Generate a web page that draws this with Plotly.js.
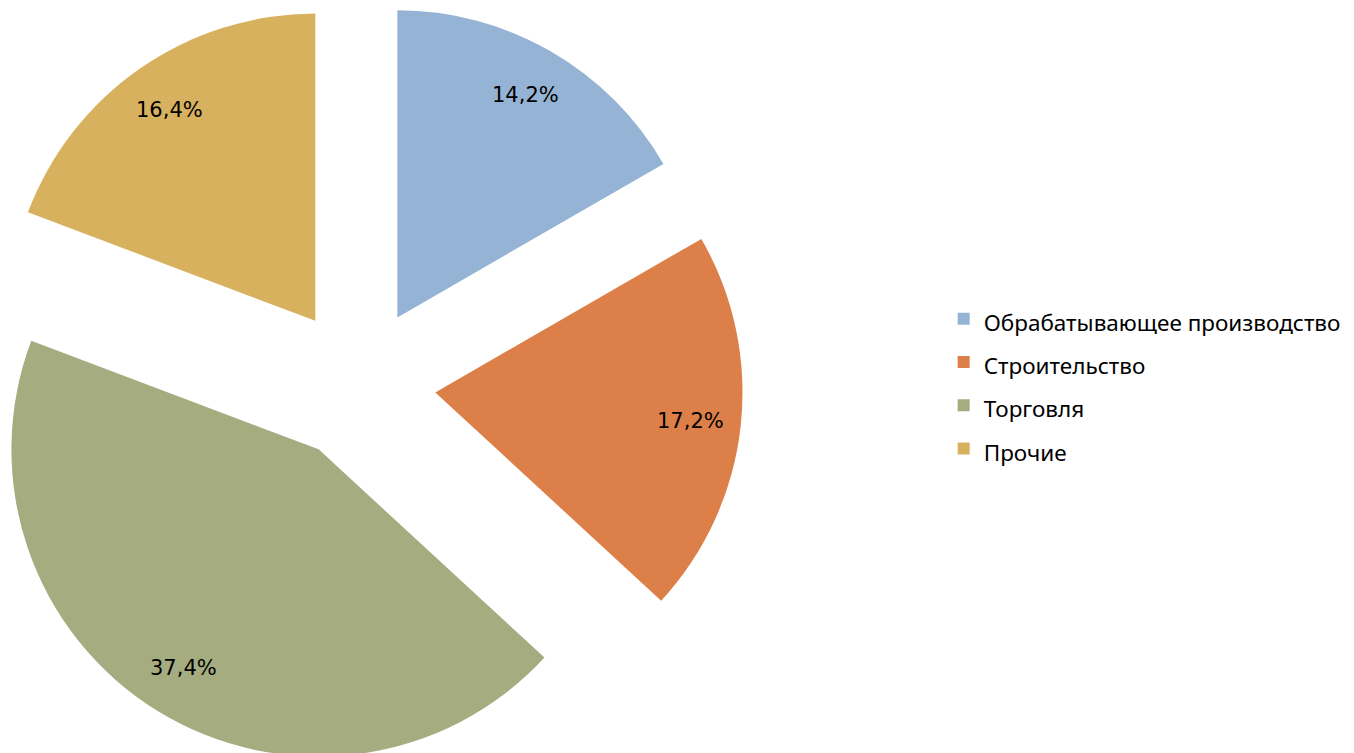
<!DOCTYPE html>
<html>
<head>
<meta charset="utf-8">
<script src="https://cdn.plot.ly/plotly-3.0.1.min.js"></script>
<style>html,body{margin:0;padding:0;overflow:hidden;background:#fff}#chart{position:absolute;left:-60px;top:0;width:1414px;height:768px}</style>
</head>
<body>
<div id="chart"></div>
<script>
const categories = ["Обрабатывающее производство", "Строительство", "Торговля", "Прочие"];
const values = [14.2, 17.2, 37.4, 16.4];
const valueLabels = ["14,2%", "17,2%", "37,4%", "16,4%"];
const colors = ["#95B3D4", "#DD7F48", "#A5AC80", "#D8B15E"];

const PULL = 0.25;
const W = 1414, H = 768;

const trace = {
  type: "pie",
  labels: categories.map(c => '<span style="font-size:22.5px">' + c + '</span>'),
  values: values,
  text: valueLabels,
  textinfo: "none",
  sort: false,
  direction: "clockwise",
  rotation: 0,
  pull: values.map(() => PULL),
  marker: {colors: colors, line: {width: 0}},
  domain: {x: [0, 0.5926], y: [0, 1]},
  hoverinfo: "text"
};

const layout = {
  width: W,
  height: H,
  margin: {l: 0, r: 0, t: 0, b: 0},
  paper_bgcolor: "#fff",
  showlegend: true,
  legend: {
    x: 0.7098, y: 0.5, xanchor: "left", yanchor: "middle",
    font: {family: "Noto Sans", size: 31, color: "#000"},
    itemwidth: 30,
    tracegroupgap: 0
  },
  annotations: []
};

const gd = document.getElementById("chart");
Plotly.newPlot(gd, [trace], layout, {displayModeBar: false, staticPlot: true}).then(() => {
  const cd0 = gd.calcdata[0][0];
  const r = cd0.r, cx = cd0.cx, cy = cd0.cy;
  const total = values.reduce((a, b) => a + b, 0);
  let cum = 0;
  const anns = values.map((v, i) => {
    const mid = 2 * Math.PI * (cum + v / 2) / total;
    cum += v;
    const d = (PULL + 0.835) * r;
    const px = cx + d * Math.sin(mid);
    const py = cy - d * Math.cos(mid);
    return {
      xref: "paper", yref: "paper",
      x: px / W, y: 1 - py / H,
      xanchor: "center", yanchor: "middle",
      text: valueLabels[i], showarrow: false,
      font: {family: "DejaVu Sans", size: 21, color: "#000"}
    };
  });
  return Plotly.relayout(gd, {annotations: anns});
});
</script>
</body>
</html>
